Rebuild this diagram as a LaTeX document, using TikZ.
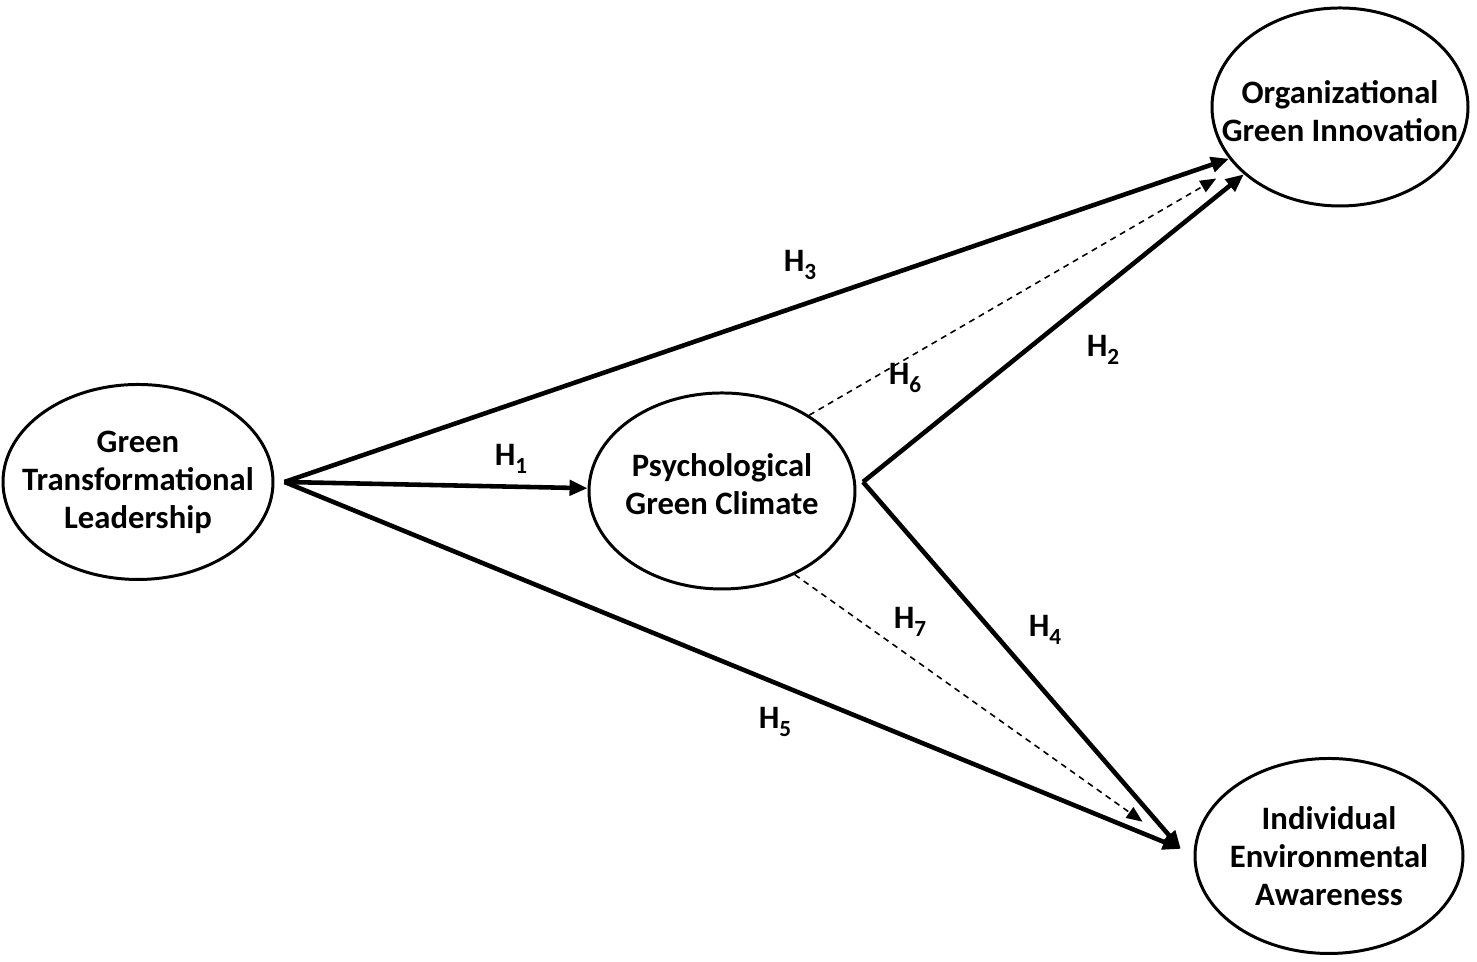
\documentclass[tikz,border=0pt]{standalone}
\usepackage{fontspec}
\setmainfont{Carlito}
\usetikzlibrary{arrows.meta,positioning,shapes.geometric}
\definecolor{GclInk}{RGB}{0,0,0}
\newcommand{\gclsub}[1]{\raisebox{-2.2pt}{\fontsize{6.6}{7}\selectfont #1}}
\tikzset{
  gcl/latent/.style={
    ellipse,
    draw=GclInk,
    line width=0.85pt,
    fill=white,
    inner sep=0pt
  },
  gcl/name/.style={
    align=center,
    text=GclInk,
    inner sep=0pt,
    font=\fontsize{9.3}{10.8}\selectfont\bfseries
  },
  gcl/arrow/.style={-{Triangle[length=1.8mm,width=1.5mm]}, line width=1.3pt, draw=GclInk},
  gcl/dasharrow/.style={-{Triangle[length=1.6mm,width=1.3mm]}, line width=0.45pt, dash pattern=on 1.7pt off 1.4pt, draw=GclInk},
  gcl/hyp/.style={font=\fontsize{9.3}{10.8}\selectfont\bfseries, text=GclInk, inner sep=1pt}
}

\begin{document}
\begin{tikzpicture}[x=1cm,y=1cm]
  \useasboundingbox (0,0) rectangle (14.77,9.62);
  \node[gcl/latent,minimum width=2.70cm,minimum height=1.95cm,
    label={[gcl/name]center:Green\\Transformational\\Leadership}] (gtl) at (1.38,4.80) {};
  \node[gcl/latent,minimum width=2.66cm,minimum height=1.96cm,
    label={[gcl/name,yshift=0.07cm]center:Psychological\\Green Climate}] (pgc) at (7.22,4.71) {};
  \node[gcl/latent,minimum width=2.56cm,minimum height=1.98cm,
    label={[gcl/name,yshift=-0.04cm]center:Organizational\\Green Innovation}] (ogi) at (13.40,8.55) {};
  \node[gcl/latent,minimum width=2.68cm,minimum height=1.95cm,
    label={[gcl/name]center:Individual\\Environmental\\Awareness}] (iea) at (13.29,1.06) {};

  \coordinate[right=0.1cm of gtl.east] (gtlout);
  \coordinate (pgcout) at (8.63,4.80);
  \coordinate[left=0.13cm of iea.177] (ieain);

  \draw[gcl/arrow] (gtlout) -- (pgc);
  \draw[gcl/arrow] (gtlout) -- (ogi.205);
  \draw[gcl/arrow] (gtlout) -- (ieain);
  \draw[gcl/arrow] (pgcout) -- (ogi.215);
  \draw[gcl/arrow] (pgcout) -- (ieain);
  \draw[gcl/dasharrow,shorten >=2.3mm] (pgc.41) -- (ogi.210);
  \draw[gcl/dasharrow,shorten >=4.7mm] (pgc.-49) -- (ieain);

  \node[gcl/hyp] (h1) at (5.11,5.03) {H\gclsub{1}};
  \node[gcl/hyp] (h2) at (11.03,6.12) {H\gclsub{2}};
  \node[gcl/hyp] (h3) at (8.00,6.97) {H\gclsub{3}};
  \node[gcl/hyp] (h4) at (10.45,3.32) {H\gclsub{4}};
  \node[gcl/hyp] (h5) at (7.75,2.40) {H\gclsub{5}};
  \node[gcl/hyp] (h6) at (9.05,5.84) {H\gclsub{6}};
  \node[gcl/hyp] (h7) at (9.10,3.40) {H\gclsub{7}};
\end{tikzpicture}
\end{document}
